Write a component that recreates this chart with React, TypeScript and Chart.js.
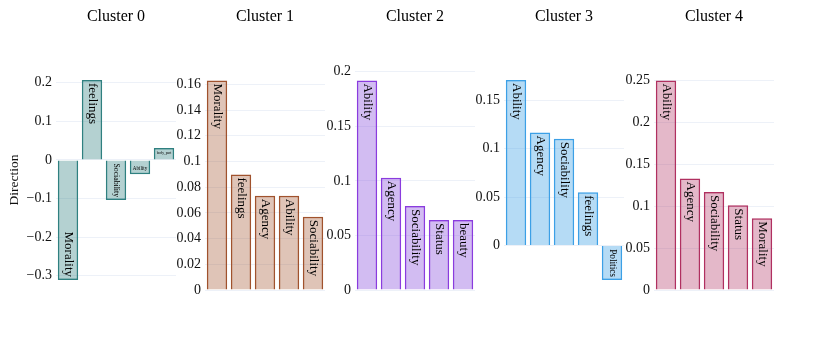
import React, { useEffect, useRef } from "react";
import { Chart, registerables } from "chart.js";

Chart.register(...registerables);

const FONT = "'Liberation Serif', 'Times New Roman', serif";

const titles = ["Cluster 0", "Cluster 1", "Cluster 2", "Cluster 3", "Cluster 4"];

const labels0 = ["Morality", "feelings", "Sociability", "Ability", "body_part"];
const values0 = [-0.311, 0.207, -0.104, -0.037, 0.031];
const ticks0 = [-0.3, -0.2, -0.1, 0, 0.1, 0.2];

const labels1 = ["Morality", "feelings", "Agency", "Ability", "Sociability"];
const values1 = [0.163, 0.0899, 0.0733, 0.0733, 0.0569];
const ticks1 = [0, 0.02, 0.04, 0.06, 0.08, 0.1, 0.12, 0.14, 0.16];

const labels2 = ["Ability", "Agency", "Sociability", "Status", "beauty"];
const values2 = [0.192, 0.1028, 0.0769, 0.0641, 0.0641];
const ticks2 = [0, 0.05, 0.1, 0.15, 0.2];

const labels3 = ["Ability", "Agency", "Sociability", "feelings", "Politics"];
const values3 = [0.171, 0.1167, 0.1104, 0.0552, -0.0355];
const ticks3 = [0, 0.05, 0.1, 0.15];

const labels4 = ["Ability", "Agency", "Sociability", "Status", "Morality"];
const values4 = [0.25, 0.133, 0.117, 0.101, 0.0857];
const ticks4 = [0, 0.05, 0.1, 0.15, 0.2, 0.25];

const borderColors = [
  "rgb(47,128,128)",
  "rgb(160,82,45)",
  "rgb(138,60,222)",
  "rgb(60,160,230)",
  "rgb(176,48,96)",
];
const fillColors = [
  "rgba(47,128,128,0.36)",
  "rgba(160,82,45,0.34)",
  "rgba(138,80,222,0.38)",
  "rgba(60,160,230,0.38)",
  "rgba(176,48,96,0.34)",
];

const panels = [
  { labels: labels0, values: values0, ticks: ticks0 },
  { labels: labels1, values: values1, ticks: ticks1 },
  { labels: labels2, values: values2, ticks: ticks2 },
  { labels: labels3, values: values3, ticks: ticks3 },
  { labels: labels4, values: values4, ticks: ticks4 },
];

const PLOT_LEFTS = [56, 205, 355, 504, 654];
const AXIS_W = 56;
const PLOT_W = 120;
const CANVAS_W = AXIS_W + PLOT_W + 4;
const H = 346;
const PLOT_TOP = 70;
const PLOT_BOTTOM = 290;
const TEXT_FS = 13;
const TEXTPAD = 3;

const barTextPlugin = {
  id: "barText",
  afterDatasetsDraw(chart: any) {
    const ctx = chart.ctx;
    const meta = chart.getDatasetMeta(0);
    const lbls = chart.data.labels as string[];
    meta.data.forEach((el: any, i: number) => {
      const p = el.getProps(["x", "y", "base", "width"], true);
      const x0 = p.x - p.width / 2;
      const x1 = p.x + p.width / 2;
      const yTop = Math.min(p.y, p.base);
      const yBot = Math.max(p.y, p.base);
      let lx = x1 - x0;
      let ly = yBot - yTop;
      const pad = lx > 2 * TEXTPAD && ly > 2 * TEXTPAD ? TEXTPAD : 0;
      lx -= 2 * pad;
      ly -= 2 * pad;
      const label = lbls[i];
      ctx.save();
      ctx.font = `${TEXT_FS}px ${FONT}`;
      const tw = ctx.measureText(label).width;
      const th = TEXT_FS * 1.1;
      const sH = Math.min(1, lx / tw, ly / th);
      const sR = Math.min(1, lx / th, ly / tw);
      const rotate = sR > sH;
      const s = rotate ? sR : sH;
      const fs = TEXT_FS * s;
      const len = (rotate ? tw : th) * s;
      const positive = p.y <= p.base;
      const cy = positive ? yTop + pad + len / 2 : yBot - pad - len / 2;
      ctx.translate(p.x, cy);
      if (rotate) ctx.rotate(Math.PI / 2);
      ctx.font = `${fs}px ${FONT}`;
      ctx.textAlign = "center";
      ctx.textBaseline = "middle";
      ctx.fillStyle = "#000";
      ctx.fillText(label, 0, 0);
      ctx.restore();
    });
  },
};

const titlePlugin = {
  id: "clusterTitle",
  afterDraw(chart: any, _args: any, opts: any) {
    const ctx = chart.ctx;
    const a = chart.chartArea;
    ctx.save();
    ctx.font = `16px ${FONT}`;
    ctx.fillStyle = "#000";
    ctx.textAlign = "center";
    ctx.textBaseline = "middle";
    ctx.fillText(opts.text, (a.left + a.right) / 2, 17);
    ctx.restore();
  },
};

function fmt(v: number) {
  if (v === 0) return "0";
  return String(v).replace("-", "\u2212");
}

function Panel({ idx }: { idx: number }) {
  const ref = useRef<HTMLCanvasElement | null>(null);
  useEffect(() => {
    const pnl = panels[idx];
    const vals = pnl.values;
    const mx = Math.max(0, ...vals);
    const mn = Math.min(0, ...vals);
    const span = mx - mn;
    const yMax = mx + 0.05 * span;
    const yMin = mn < 0 ? mn - 0.05 * span : 0;
    const chart = new Chart(ref.current as HTMLCanvasElement, {
      type: "bar",
      data: {
        labels: pnl.labels,
        datasets: [
          {
            data: vals,
            backgroundColor: fillColors[idx],
            borderColor: borderColors[idx],
            borderWidth: 1.5,
            barPercentage: 0.85,
            categoryPercentage: 1,
          },
        ],
      },
      options: {
        responsive: false,
        animation: false,
        devicePixelRatio: 1,
        layout: {
          padding: { left: 0, right: CANVAS_W - AXIS_W - PLOT_W, top: PLOT_TOP, bottom: H - PLOT_BOTTOM },
        },
        plugins: {
          legend: { display: false },
          tooltip: { enabled: false },
          clusterTitle: { text: titles[idx] },
        } as any,
        scales: {
          x: { display: false, grid: { display: false } },
          y: {
            min: yMin,
            max: yMax,
            afterFit: (scale: any) => {
              scale.width = AXIS_W;
            },
            afterBuildTicks: (scale: any) => {
              scale.ticks = pnl.ticks.map((v) => ({ value: v }));
            },
            border: { display: false },
            grid: {
              color: "#EDF1F8",
              lineWidth: 1,
              drawTicks: false,
            },
            ticks: {
              padding: 4,
              color: "#111",
              font: { family: FONT, size: 14 },
              callback: (v: any) => fmt(Number(v)),
            },
            title: {
              display: idx === 0,
              text: "Direction",
              color: "#111",
              font: { family: FONT, size: 13.5 },
              padding: { top: 6, bottom: 0 },
            },
          },
        },
      },
      plugins: [barTextPlugin, titlePlugin],
    });
    return () => chart.destroy();
  }, [idx]);
  return (
    <canvas
      ref={ref}
      width={CANVAS_W}
      height={H}
      style={{
        position: "absolute",
        left: PLOT_LEFTS[idx] - AXIS_W,
        top: 0,
        width: CANVAS_W,
        height: H,
      }}
    />
  );
}

export default function App() {
  return (
    <div
      style={{
        position: "absolute",
        left: 0,
        top: 0,
        width: 830,
        height: H,
        background: "#fff",
        overflow: "hidden",
      }}
    >
      {panels.map((_, i) => (
        <Panel key={i} idx={i} />
      ))}
    </div>
  );
}
